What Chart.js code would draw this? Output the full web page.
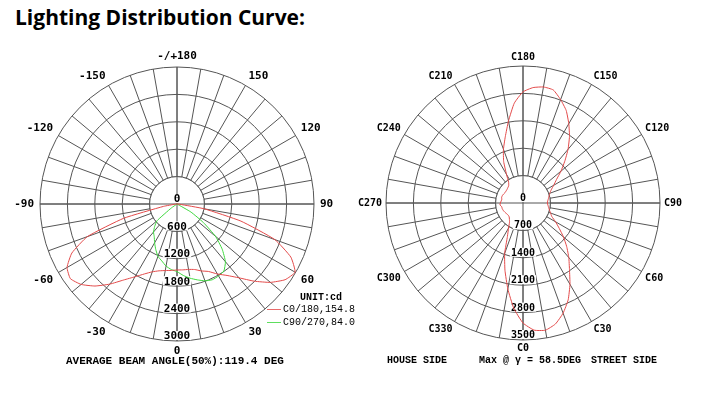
<!DOCTYPE html>
<html>
<head>
<meta charset="utf-8">
<script src="https://cdn.jsdelivr.net/npm/chart.js@4.4.0/dist/chart.umd.min.js"></script>
<style>
  body { margin: 0; background: #fff; }
  #page { position: relative; width: 710px; height: 394px; overflow: hidden; background: #fff; }
  canvas { position: absolute; top: 0; }
  #leftChart { left: 0; }
  #rightChart { left: 355px; }
  .title { position: absolute; left: 15px; top: 3px; font: bold 21px "Open Sans", sans-serif; color: #000; white-space: nowrap; }
  .mono { position: absolute; font-family: "Liberation Mono", monospace; font-weight: bold; white-space: pre; color: #000; }
  .cap { font-size: 11px; line-height: 12px; }
  .small { font-size: 10px; line-height: 12px; }
  .legend { position: absolute; font-family: "Liberation Mono", monospace; font-size: 10px; line-height: 12px; white-space: pre; color: #000; }
  .legend i { display: inline-block; width: 14px; height: 1px; vertical-align: middle; margin-right: 2px; }
</style>
</head>
<body>
<div id="page">
  <div class="title">Lighting Distribution Curve:</div>
  <canvas id="leftChart" width="355" height="394"></canvas>
  <canvas id="rightChart" width="355" height="394"></canvas>

  <div class="mono small" style="left:300px; top:292px;">UNIT:cd</div>
  <div class="legend" style="left:267px; top:304px;"><i style="background:#e86a6a"></i>C0/180,154.8</div>
  <div class="legend" style="left:267px; top:317px;"><i style="background:#5ede5e"></i>C90/270,84.0</div>

  <div class="mono cap" style="left:66px; top:355px;">AVERAGE BEAM ANGLE(50%):119.4 DEG</div>
  <div class="mono small" style="left:387px; top:355px;">HOUSE SIDE</div>
  <div class="mono small" style="left:479px; top:355px;">Max @ γ = 58.5DEG</div>
  <div class="mono small" style="left:591px; top:355px;">STREET SIDE</div>
</div>

<script>
// gamma angle of every 5 deg spoke, clockwise from the top of the left diagram
const leftAngles = [180, 175, 170, 165, 160, 155, 150, 145, 140, 135, 130, 125, 120, 115, 110, 105, 100, 95,
  90, 85, 80, 75, 70, 65, 60, 55, 50, 45, 40, 35, 30, 25, 20, 15, 10, 5,
  0, -5, -10, -15, -20, -25, -30, -35, -40, -45, -50, -55, -60, -65, -70, -75, -80, -85,
  -90, -95, -100, -105, -110, -115, -120, -125, -130, -135, -140, -145, -150, -155, -160, -165, -170, -175];

// C0/180 plane, cd
const c0180 = [0, 0, 0, 0, 0, 0, 0, 0, 0, 0, 0, 0, 0, 0, 0, 0, 0, 0,
  0, 50, 600, 1450, 2280, 2750, 2985, 2890, 2670, 2390, 2110, 1910, 1770, 1630, 1560, 1485, 1455, 1448,
  1445, 1460, 1480, 1515, 1580, 1690, 1840, 2030, 2290, 2540, 2740, 2850, 2780, 2540, 2090, 1210, 300, 40,
  0, 0, 0, 0, 0, 0, 0, 0, 0, 0, 0, 0, 0, 0, 0, 0, 0, 0];

// C90/270 plane, cd
const c90270 = [0, 0, 0, 0, 0, 0, 0, 0, 0, 0, 0, 0, 0, 0, 0, 0, 0, 0,
  0, 0, 0, 0, 0, 0, 350, 700, 1100, 1400, 1650, 1790, 1820, 1830, 1790, 1720, 1650, 1570,
  1480, 1440, 1380, 1290, 1220, 1100, 980, 870, 800, 690, 570, 150, 0, 0, 0, 0, 0, 0,
  0, 0, 0, 0, 0, 0, 0, 0, 0, 0, 0, 0, 0, 0, 0, 0, 0, 0];

// C angle of every 5 deg spoke, clockwise from the top of the right diagram
const rightAngles = [180, 175, 170, 165, 160, 155, 150, 145, 140, 135, 130, 125, 120, 115, 110, 105, 100, 95,
  90, 85, 80, 75, 70, 65, 60, 55, 50, 45, 40, 35, 30, 25, 20, 15, 10, 5,
  0, 355, 350, 345, 340, 335, 330, 325, 320, 315, 310, 305, 300, 295, 290, 285, 280, 275,
  270, 265, 260, 255, 250, 245, 240, 235, 230, 225, 220, 215, 210, 205, 200, 195, 190, 185];

// max intensity curve, cd
const maxCurve = [2840, 2960, 3010, 2990, 2810, 2610, 2340, 2070, 1790, 1510, 1265, 1045, 905, 795, 730, 690, 660, 635,
  621, 640, 665, 700, 750, 810, 960, 1130, 1350, 1580, 1820, 2070, 2400, 2730, 2995, 3200, 3300, 3260,
  3066, 2700, 2230, 1780, 1370, 940, 740, 600, 540, 500, 490, 495, 510, 525, 540, 550, 552, 590,
  580, 560, 550, 565, 560, 545, 530, 530, 535, 550, 570, 640, 840, 1170, 1460, 1750, 2130, 2560];

const leftTicks = [0, 600, 1200, 1800, 2400, 3000];
const rightTicks = [0, 700, 1400, 2100, 2800, 3500];

// labels round the rim every 30 deg, clockwise from the top
const leftRim = ["-/+180", "150", "120", "90", "60", "30", "0", "-30", "-60", "-90", "-120", "-150"];
const rightRim = ["C180", "C150", "C120", "C90", "C60", "C30", "C0", "C330", "C300", "C270", "C240", "C210"];

const gridColor = "#555555";
const redColor = "#e34a4a";
const greenColor = "#3fd93f";

// inner ring cleanup, value labels going down and rim labels
const polarExtras = {
  id: "polarExtras",
  beforeDatasetsDraw(chart, args, opts) {
    const s = chart.scales.r;
    const ctx = chart.ctx;
    const cx = s.xCenter, cy = s.yCenter;
    const R = s.drawingArea;
    const r1 = s.getDistanceFromCenterForValue(opts.ticks[1]);
    ctx.save();
    ctx.fillStyle = "#fff";
    ctx.beginPath();
    ctx.arc(cx, cy, r1, 0, Math.PI * 2);
    ctx.fill();
    ctx.strokeStyle = gridColor;
    ctx.lineWidth = 1;
    ctx.stroke();
    ctx.beginPath();
    ctx.moveTo(cx, cy - R); ctx.lineTo(cx, cy + R);
    ctx.moveTo(cx - R, cy); ctx.lineTo(cx + R, cy);
    ctx.stroke();

    ctx.font = opts.font;
    ctx.textAlign = "center";
    ctx.textBaseline = "middle";
    opts.ticks.forEach(v => {
      const y = cy + s.getDistanceFromCenterForValue(v) - 5;
      const w = ctx.measureText(String(v)).width;
      ctx.fillStyle = "#fff";
      ctx.fillRect(cx - w / 2 - 1, y - 5, w + 2, 9);
      ctx.fillStyle = "#000";
      ctx.fillText(String(v), cx, y + 0.5);
    });

    const h = 9;
    opts.rim.forEach((text, k) => {
      const deg = k * 30;
      const p = s.getPointPosition(k * 6, R + opts.pad);
      ctx.textAlign = deg === 0 || deg === 180 ? "center" : deg < 180 ? "left" : "right";
      let y = p.y;
      if (deg < 90 || deg > 270) y -= h / 2;
      else if (deg > 90 && deg < 270) y += h / 2;
      ctx.fillText(text, p.x, y);
    });
    ctx.restore();
  }
};

function polarOptions(max, step, padding, extras) {
  return {
    responsive: false,
    animation: false,
    devicePixelRatio: 1,
    layout: { padding: padding },
    plugins: {
      legend: { display: false },
      tooltip: { enabled: false },
      polarExtras: extras,
    },
    elements: {
      point: { radius: 0 },
      line: { borderWidth: 1, tension: 0.15 },
    },
    scales: {
      r: {
        min: 0,
        max: max,
        startAngle: 0,
        ticks: { display: false, stepSize: step },
        pointLabels: { display: false },
        grid: { circular: true, color: gridColor, lineWidth: 1 },
        angleLines: {
          color: gridColor,
          lineWidth: ctx => (ctx.index % 2 === 0 ? 1 : 0),
        },
      },
    },
  };
}

new Chart("leftChart", {
  type: "radar",
  data: {
    labels: leftAngles,
    datasets: [
      { label: "C0/180", data: c0180, borderColor: redColor, fill: false },
      { label: "C90/270", data: c90270, borderColor: greenColor, fill: false },
    ],
  },
  options: polarOptions(3000, 600, { left: 40, right: 41, top: 67, bottom: 53 },
    { ticks: leftTicks, rim: leftRim, pad: 6, font: 'bold 11px "DejaVu Sans Mono"' }),
  plugins: [polarExtras],
});

new Chart("rightChart", {
  type: "radar",
  data: {
    labels: rightAngles,
    datasets: [
      { label: "max", data: maxCurve, borderColor: redColor, fill: false },
    ],
  },
  options: polarOptions(3500, 700, { left: 31, right: 50, top: 66, bottom: 54 },
    { ticks: rightTicks, rim: rightRim, pad: 4, font: 'bold 10px "DejaVu Sans Mono"' }),
  plugins: [polarExtras],
});
</script>
</body>
</html>
